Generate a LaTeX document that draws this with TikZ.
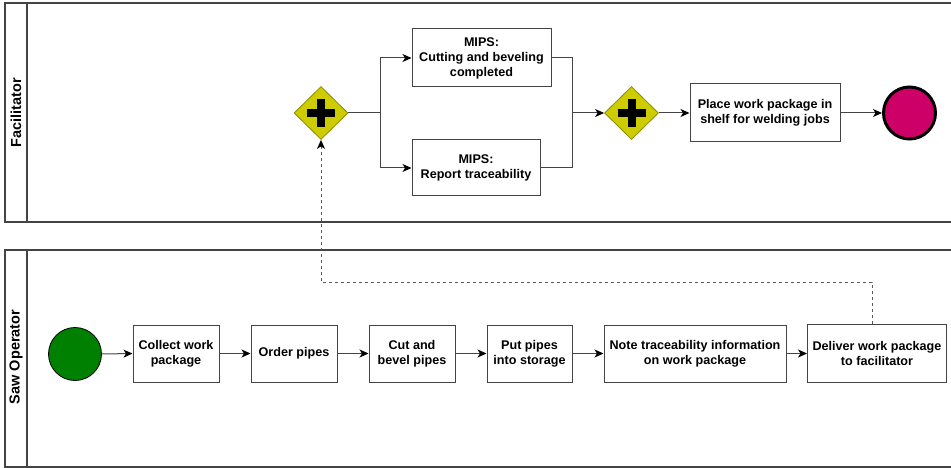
\documentclass[tikz,border=0pt]{standalone}
\usepackage{fontspec}
\setmainfont{Liberation Sans}
\usetikzlibrary{shapes.geometric,arrows.meta}
\definecolor{gwfill}{HTML}{CCCC00}
\definecolor{gwline}{HTML}{8C8C00}
\definecolor{endfill}{HTML}{CC0066}
\definecolor{startfill}{HTML}{008000}
\definecolor{edge}{HTML}{444444}
\tikzset{
  pool/.style={draw=edge, line width=1.2pt},
  task/.style={draw=edge, line width=1pt, fill=white, align=center, inner sep=0pt,
    font=\bfseries\fontsize{12.6}{15}\selectfont},
  gateway/.style={diamond, draw=gwline, line width=0.8pt, fill=gwfill, inner sep=0pt,
    minimum width=54pt, minimum height=53pt},
  plusbar/.style={line width=8pt, draw=black},
  flow/.style={draw=edge, line width=1pt, -{Stealth[length=9pt,width=8pt,inset=2.5pt,color=black]}},
  plainflow/.style={draw=edge, line width=1pt},
  msgflow/.style={draw=black!65, line width=1pt, dash pattern=on 3pt off 3pt,
    -{Stealth[length=9pt,width=8pt,inset=2.5pt,color=black]}},
  lanelabel/.style={rotate=90, font=\bfseries\fontsize{14.5}{17}\selectfont},
  startev/.style={circle, draw=black, line width=0.8pt, fill=startfill, minimum size=53pt, inner sep=0pt},
  endev/.style={circle, draw=black, line width=3pt, fill=endfill, minimum size=52pt, inner sep=0pt}
}
\begin{document}
\begin{tikzpicture}[x=1pt, y=-1pt]
\useasboundingbox (0,0) rectangle (951,468);
\clip (0,0) rectangle (951,468);
\fill[white] (0,0) rectangle (951,468);
% pools
\draw[pool] (5,3) rectangle (965,222);
\draw[pool] (27,3) -- (27,222);
\node[lanelabel] (lf) at (16,112.5) {Facilitator};
\draw[pool] (5,250) rectangle (965,467);
\draw[pool] (27,250) -- (27,467);
\node[lanelabel] (ls) at (16,357) {Saw Operator};
% facilitator lane
\node[gateway] (g1) at (321,113) {};
\draw[plusbar] (g1.center) ++(-14,0) -- ++(28,0);
\draw[plusbar] (g1.center) ++(0,-14) -- ++(0,28);
\node[task, minimum width=139pt, minimum height=58pt] (m1) at (481.5,58) {MIPS:\\Cutting and beveling\\completed};
\node[task, minimum width=128pt, minimum height=56pt] (m2) at (476,168) {MIPS:\\Report traceability};
\node[gateway] (g2) at (631.5,113) {};
\draw[plusbar] (g2.center) ++(-14,0) -- ++(28,0);
\draw[plusbar] (g2.center) ++(0,-14) -- ++(0,28);
\node[task, minimum width=150pt, minimum height=58pt] (pl) at (765,113) {Place work package in\\shelf for welding jobs};
\node[endev] (end) at (909.5,113) {};
\coordinate (bs) at (380,113);
\coordinate (bj) at (572,113);
\draw[plainflow] (g1.east) -- (bs);
\draw[flow] (bs) |- (m1.west);
\draw[flow] (bs) |- (m2.west);
\draw[plainflow] (m1.east) -| (bj);
\draw[plainflow] (m2.east) -| (bj);
\draw[flow] (bj) -- (g2.west);
\draw[flow] (g2.east) -- (pl.west);
\draw[flow] (pl.east) -- (end.west);
% saw operator lane
\node[startev] (st) at (75,354) {};
\node[task, minimum width=86pt, minimum height=57pt] (col) at (176,353.5) {Collect work\\package};
\node[task, minimum width=86pt, minimum height=57pt] (ord) at (294,353.5) {Order pipes};
\node[task, minimum width=86pt, minimum height=57pt] (cut) at (412,353.5) {Cut and\\bevel pipes};
\node[task, minimum width=85pt, minimum height=57pt] (put) at (529.5,353.5) {Put pipes\\into storage};
\node[task, minimum width=182pt, minimum height=57pt] (note) at (695,353.5) {Note traceability information\\on work package};
\node[task, minimum width=139pt, minimum height=58pt] (del) at (877,353.5) {Deliver work package\\to facilitator};
\draw[flow] (st.east) -- (col.west);
\draw[flow] (col.east) -- (ord.west);
\draw[flow] (ord.east) -- (cut.west);
\draw[flow] (cut.east) -- (put.west);
\draw[flow] (put.east) -- (note.west);
\draw[flow] (note.east) -- (del.west);
% message flow
\coordinate (dl) at (872,282);
\draw[msgflow] (del.north -| dl) -- (dl) -| (g1.south);
\end{tikzpicture}
\end{document}
